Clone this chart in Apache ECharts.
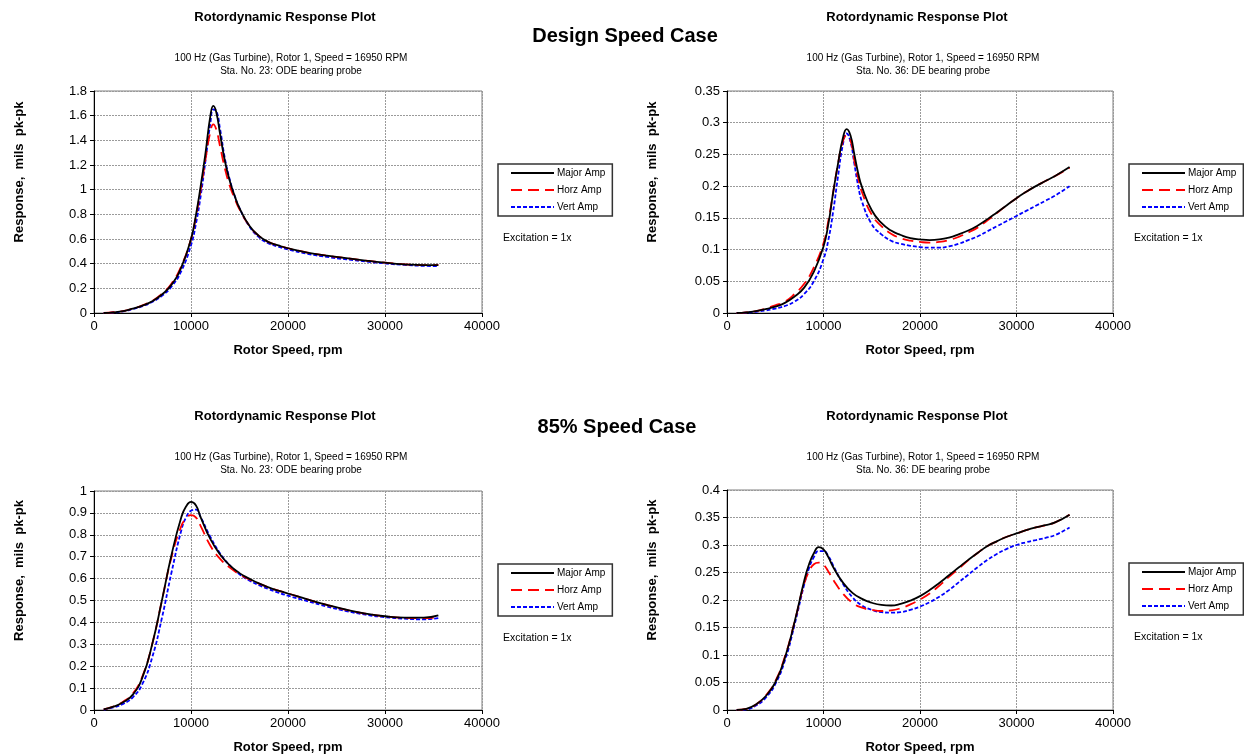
<!DOCTYPE html>
<html>
<head>
<meta charset="utf-8">
<script src="https://cdn.jsdelivr.net/npm/echarts@6/dist/echarts.min.js"></script>
<style>
html,body{margin:0;padding:0;background:#fff;}
#c{width:1244px;height:755px;}
</style>
</head>
<body>
<div id="c"></div>
<script>
// ---------- data ----------
const seriesNames = ['Major Amp', 'Horz Amp', 'Vert Amp'];
const xTicks = [0, 10000, 20000, 30000, 40000];

// Panel A: Design speed, Sta. 23 ODE
const rpmA = [1000,2000,3000,4000,5000,6000,7000,8000,9000,10000,10500,11000,11500,12000,12300,12600,13000,13500,14000,14500,15000,16000,17000,18000,19000,20000,22000,24000,26000,28000,30000,32000,34000,35500];
const majorA = [0,0.005,0.015,0.035,0.06,0.095,0.15,0.23,0.37,0.6,0.79,1.03,1.3,1.6,1.68,1.63,1.45,1.23,1.07,0.95,0.85,0.71,0.625,0.575,0.548,0.525,0.49,0.465,0.445,0.425,0.408,0.395,0.388,0.388];
const horzA  = [0,0.006,0.016,0.036,0.062,0.098,0.155,0.24,0.38,0.6,0.78,1.0,1.25,1.47,1.53,1.49,1.35,1.17,1.03,0.93,0.84,0.71,0.625,0.575,0.548,0.525,0.49,0.465,0.445,0.425,0.408,0.395,0.388,0.39];
const vertA  = [0,0.004,0.013,0.032,0.056,0.09,0.14,0.215,0.34,0.55,0.72,0.95,1.24,1.54,1.65,1.64,1.49,1.25,1.08,0.95,0.85,0.705,0.615,0.565,0.538,0.515,0.48,0.455,0.435,0.418,0.402,0.39,0.382,0.38];

// Panel B: Design speed, Sta. 36 DE
const rpmB = [1000,2000,3000,4000,5000,6000,7000,8000,9000,10000,10500,11000,11500,12000,12400,12800,13200,13600,14000,15000,16000,17000,18000,19000,20000,21000,22000,23000,24000,25000,26000,27000,28000,29000,30000,31000,32000,33000,34000,35500];
const majorB = [0,0.001,0.003,0.006,0.01,0.016,0.026,0.04,0.065,0.105,0.14,0.19,0.235,0.275,0.29,0.28,0.25,0.22,0.198,0.162,0.142,0.13,0.123,0.118,0.116,0.115,0.116,0.119,0.124,0.13,0.138,0.148,0.159,0.17,0.181,0.191,0.2,0.208,0.216,0.23];
const horzB  = [0,0.001,0.003,0.007,0.012,0.018,0.03,0.046,0.072,0.11,0.145,0.19,0.235,0.27,0.28,0.272,0.24,0.212,0.19,0.155,0.137,0.125,0.118,0.114,0.112,0.111,0.112,0.115,0.12,0.127,0.135,0.146,0.158,0.17,0.181,0.191,0.2,0.208,0.216,0.229];
const vertB  = [0,0.0005,0.002,0.004,0.007,0.011,0.018,0.03,0.05,0.085,0.115,0.16,0.215,0.265,0.283,0.27,0.235,0.2,0.175,0.14,0.124,0.114,0.109,0.106,0.104,0.103,0.103,0.105,0.109,0.115,0.121,0.129,0.137,0.145,0.153,0.161,0.169,0.177,0.185,0.2];

// Panel C: 85% speed, Sta. 23 ODE
const rpmC = [1000,2000,3000,4000,5000,6000,7000,8000,9000,9500,10000,10500,11000,12000,13000,14000,15000,16000,17000,18000,19000,20000,22000,24000,26000,28000,30000,32000,34000,35500];
const majorC = [0.003,0.015,0.035,0.07,0.15,0.3,0.5,0.71,0.88,0.93,0.95,0.935,0.88,0.78,0.71,0.66,0.625,0.6,0.578,0.56,0.545,0.532,0.505,0.48,0.458,0.44,0.428,0.422,0.422,0.432];
const horzC  = [0.003,0.016,0.038,0.075,0.155,0.3,0.5,0.7,0.84,0.875,0.89,0.88,0.84,0.75,0.69,0.65,0.62,0.597,0.577,0.56,0.545,0.532,0.505,0.48,0.457,0.44,0.428,0.421,0.42,0.425];
const vertC  = [0.002,0.012,0.028,0.058,0.12,0.24,0.42,0.63,0.82,0.88,0.91,0.915,0.88,0.79,0.715,0.66,0.62,0.592,0.57,0.552,0.536,0.522,0.497,0.473,0.452,0.435,0.424,0.417,0.414,0.42];

// Panel D: 85% speed, Sta. 36 DE
const rpmD = [1000,2000,3000,4000,5000,6000,7000,8000,8500,9000,9500,10000,10500,11000,12000,13000,14000,15000,16000,17000,18000,19000,20000,21000,22000,23000,24000,25000,26000,27000,28000,29000,30000,31000,32000,33000,34000,35500];
const majorD = [0,0.002,0.01,0.025,0.05,0.095,0.16,0.235,0.265,0.285,0.296,0.292,0.278,0.26,0.232,0.213,0.202,0.195,0.191,0.19,0.193,0.199,0.207,0.218,0.231,0.245,0.259,0.273,0.286,0.298,0.307,0.315,0.321,0.327,0.332,0.336,0.341,0.355];
const horzD  = [0,0.002,0.01,0.026,0.052,0.097,0.16,0.23,0.252,0.265,0.268,0.264,0.252,0.237,0.212,0.195,0.186,0.182,0.18,0.181,0.185,0.192,0.201,0.212,0.226,0.242,0.257,0.272,0.286,0.298,0.307,0.315,0.321,0.327,0.332,0.336,0.341,0.355];
const vertD  = [0,0.001,0.008,0.022,0.047,0.09,0.155,0.228,0.258,0.278,0.289,0.289,0.28,0.263,0.23,0.205,0.19,0.182,0.178,0.177,0.178,0.182,0.188,0.196,0.206,0.218,0.232,0.246,0.26,0.273,0.284,0.293,0.3,0.305,0.309,0.313,0.318,0.332];

// y-axis ranges (max, interval)
const yMax = [1.8, 0.35, 1.0, 0.4];
const yStep = [0.2, 0.05, 0.1, 0.05];

const mainTitle = 'Rotordynamic Response Plot';
const subLine1 = '100 Hz (Gas Turbine), Rotor 1, Speed = 16950 RPM';
const subLine2 = ['Sta. No. 23: ODE bearing probe', 'Sta. No. 36: DE bearing probe', 'Sta. No. 23: ODE bearing probe', 'Sta. No. 36: DE bearing probe'];
const caseTitles = ['Design Speed Case', '85% Speed Case'];
const excitation = 'Excitation = 1x';
const xName = 'Rotor Speed, rpm';
const yName = 'Response,  mils  pk-pk';

// ---------- chart ----------
const panels = [
  {rpm: rpmA, vals: [majorA, horzA, vertA]},
  {rpm: rpmB, vals: [majorB, horzB, vertB]},
  {rpm: rpmC, vals: [majorC, horzC, vertC]},
  {rpm: rpmD, vals: [majorD, horzD, vertD]}
];
const grids = [
  {left: 94, top: 91, width: 388, height: 222},
  {left: 727, top: 91, width: 386, height: 222},
  {left: 94, top: 491, width: 388, height: 221},
  {left: 727, top: 490, width: 386, height: 222}
];
const lineStyles = [
  {color: '#000000', width: 1.8, type: 'solid'},
  {color: '#ff0000', width: 1.8, type: [11, 6]},
  {color: '#0000ff', width: 1.8, type: [4, 2]}
];
const FONT = '"Liberation Sans", Arial, sans-serif';

const xAxes = [], yAxes = [], series = [], legends = [], graphics = [];
panels.forEach((p, i) => {
  xAxes.push({
    type: 'value', gridIndex: i, min: xTicks[0], max: xTicks[xTicks.length - 1], interval: xTicks[1] - xTicks[0],
    name: xName, nameLocation: 'middle', nameGap: 31,
    nameTextStyle: {fontFamily: FONT, fontWeight: 'bold', fontSize: 13, color: '#000'},
    axisLine: {lineStyle: {color: '#000', width: 1}},
    axisTick: {show: true, inside: false, length: 4, lineStyle: {color: '#000'}},
    axisLabel: {fontFamily: FONT, fontSize: 13, color: '#000', margin: 7, formatter: v => String(v)},
    splitLine: {show: true, lineStyle: {color: '#9a9a9a', type: [2, 1], width: 1}}
  });
  yAxes.push({
    type: 'value', gridIndex: i, min: 0, max: yMax[i], interval: yStep[i],
    name: yName, nameLocation: 'middle', nameGap: 68, nameRotate: 90,
    nameTextStyle: {fontFamily: FONT, fontWeight: 'bold', fontSize: 13, color: '#000', padding: [0, 0, 0, 60]},
    axisLine: {show: true, lineStyle: {color: '#000', width: 1}},
    axisTick: {show: true, inside: false, length: 4, lineStyle: {color: '#000'}},
    axisLabel: {fontFamily: FONT, fontSize: 13, color: '#000', margin: 7},
    splitLine: {show: true, lineStyle: {color: '#9a9a9a', type: [2, 1], width: 1}}
  });
  p.vals.forEach((v, k) => {
    series.push({
      type: 'line', name: seriesNames[k], xAxisIndex: i, yAxisIndex: i,
      data: p.rpm.map((x, j) => [x, v[j]]),
      symbol: 'none', showSymbol: false, smooth: 0.5,
      lineStyle: lineStyles[k], itemStyle: {color: lineStyles[k].color},
      z: 3 - k, animation: false
    });
  });
  const g = grids[i];
  const lx = g.left + g.width + 15;
  legends.push({
    data: seriesNames, orient: 'vertical', left: lx + 1, top: g.top + 73,
    itemWidth: 43, itemHeight: 10, itemGap: 7,
    padding: [4, 7, 4, 12],
    borderColor: '#333', borderWidth: 1.5,
    itemStyle: {opacity: 0},
    textStyle: {fontFamily: FONT, fontSize: 10, color: '#000', padding: [0, 0, 0, -2]},
    selectedMode: false
  });
  graphics.push({
    type: 'text', left: lx + 6, top: g.top + 142,
    style: {text: excitation, font: '10.5px ' + FONT, fill: '#000'}
  });
  const cx = g.left + g.width / 2;
  const ty = i < 2 ? 0 : 399;
  graphics.push({
    type: 'text', x: cx - 3, y: ty + 17,
    style: {text: mainTitle, font: 'bold 13px ' + FONT, fill: '#000', align: 'center', verticalAlign: 'middle'}
  });
  graphics.push({
    type: 'text', x: cx + 3, y: ty + 58,
    style: {text: subLine1, font: '10px ' + FONT, fill: '#000', align: 'center', verticalAlign: 'middle'}
  });
  graphics.push({
    type: 'text', x: cx + 3, y: ty + 71,
    style: {text: subLine2[i], font: '10px ' + FONT, fill: '#000', align: 'center', verticalAlign: 'middle'}
  });
});
graphics.push({
  type: 'text', x: 625, y: 36,
  style: {text: caseTitles[0], font: 'bold 20px ' + FONT, fill: '#000', align: 'center', verticalAlign: 'middle'}
});
graphics.push({
  type: 'text', x: 617, y: 427,
  style: {text: caseTitles[1], font: 'bold 20px ' + FONT, fill: '#000', align: 'center', verticalAlign: 'middle'}
});

const chart = echarts.init(document.getElementById('c'), null, {renderer: 'canvas'});
chart.setOption({
  animation: false,
  backgroundColor: '#fff',
  grid: grids.map(g => Object.assign({show: true, borderColor: '#808080', borderWidth: 1, backgroundColor: 'transparent', containLabel: false}, g)),
  xAxis: xAxes,
  yAxis: yAxes,
  legend: legends,
  series: series,
  graphic: graphics
});
</script>
</body>
</html>
